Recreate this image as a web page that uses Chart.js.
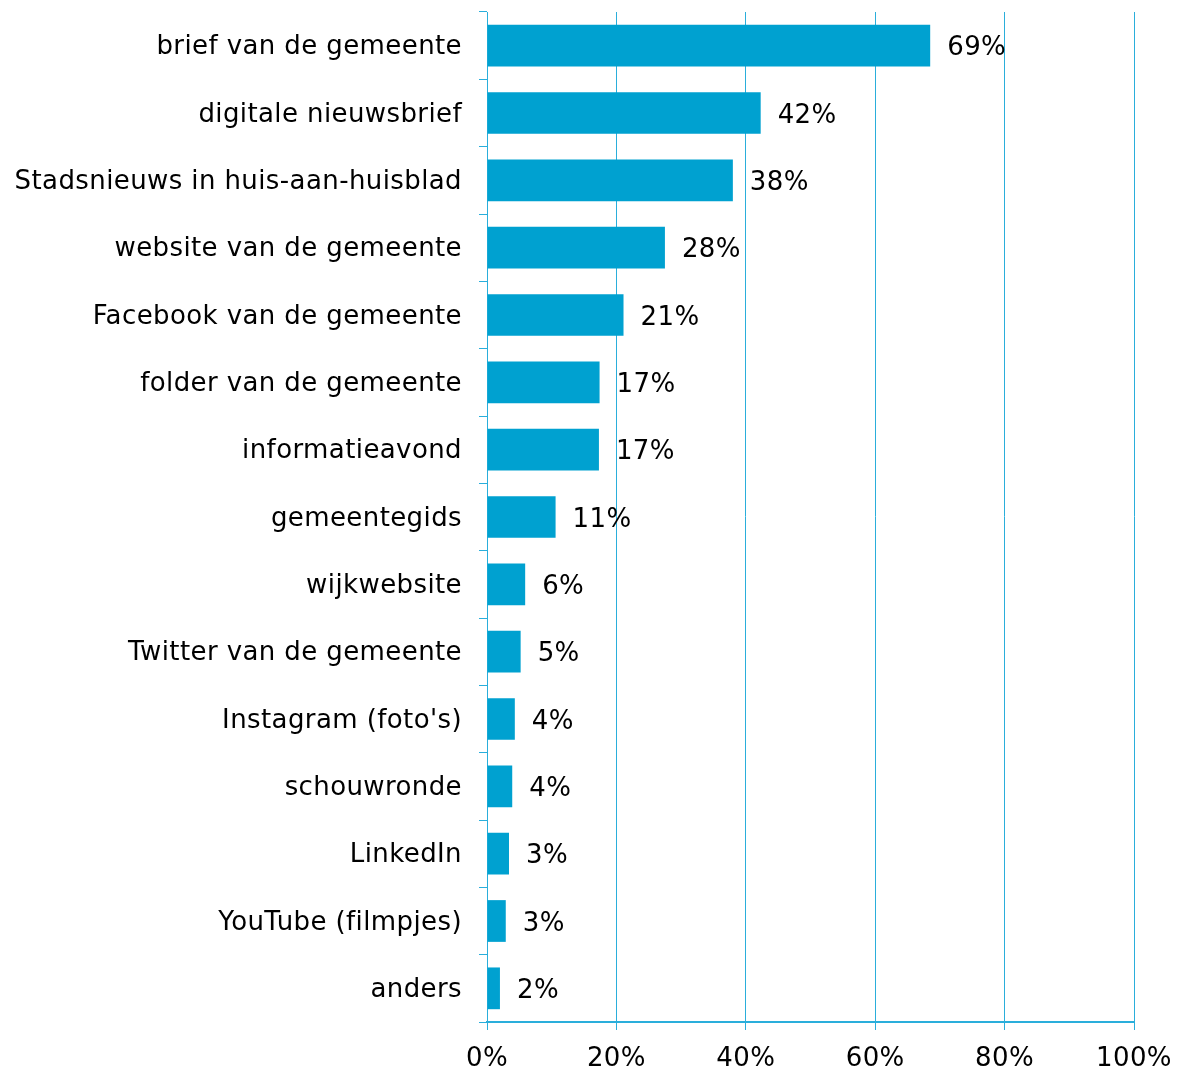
<!DOCTYPE html>
<html>
<head>
<meta charset="utf-8">
<script src="https://cdn.jsdelivr.net/npm/chart.js@4/dist/chart.umd.min.js"></script>
<style>
html, body { margin: 0; padding: 0; background: #fff; }
#wrap { width: 1177px; height: 1071px; }
</style>
</head>
<body>
<div id="wrap"><canvas id="myChart" width="1177" height="1071"></canvas></div>
<script>
// categories and values (percent)
var categories = ['brief van de gemeente', 'digitale nieuwsbrief', 'Stadsnieuws in huis-aan-huisblad',
  'website van de gemeente', 'Facebook van de gemeente', 'folder van de gemeente', 'informatieavond',
  'gemeentegids', 'wijkwebsite', 'Twitter van de gemeente', 'Instagram (foto\'s)', 'schouwronde',
  'LinkedIn', 'YouTube (filmpjes)', 'anders'];
var values = [68.5, 42.3, 38.0, 27.5, 21.1, 17.4, 17.3, 10.6, 5.9, 5.2, 4.3, 3.9, 3.4, 2.9, 2.0];
var valueLabels = ['69%', '42%', '38%', '28%', '21%', '17%', '17%', '11%', '6%', '5%', '4%', '4%', '3%', '3%', '2%'];
var xTicks = [0, 20, 40, 60, 80, 100];

var fontFam = '"DejaVu Sans", Verdana, sans-serif';
var blue = '#00a1d0';
var lineBlue = '#2aaedb';

// wider spacing, closer to the Verdana look of the original; nudge category labels down a bit
var spacing = {
  id: 'spacing',
  beforeDraw: function(chart) {
    chart.ctx.letterSpacing = '0.4px';
    var items = chart.scales.y.getLabelItems();
    items.forEach(function(it) {
      if (!it._moved) { it.options.translation[1] += 2; it._moved = true; }
    });
  }
};

var barLabels = {
  id: 'barLabels',
  afterDatasetsDraw: function(chart) {
    var ctx = chart.ctx;
    var meta = chart.getDatasetMeta(0);
    ctx.save();
    ctx.font = '26px ' + fontFam;
    ctx.fillStyle = '#000';
    ctx.textAlign = 'left';
    ctx.textBaseline = 'middle';
    meta.data.forEach(function(bar, i) {
      ctx.fillText(valueLabels[i], bar.x + 17, bar.y + 3);
    });
    ctx.restore();
  }
};

var ctx = document.getElementById('myChart').getContext('2d');
var chart = new Chart(ctx, {
  type: 'bar',
  data: {
    labels: categories,
    datasets: [{
      data: values,
      backgroundColor: blue,
      borderWidth: 0,
      categoryPercentage: 1,
      barPercentage: 0.62
    }]
  },
  plugins: [spacing, barLabels],
  options: {
    indexAxis: 'y',
    responsive: false,
    animation: false,
    layout: { padding: { top: 12, right: 43, bottom: 0, left: 0 } },
    plugins: { legend: { display: false }, tooltip: { enabled: false } },
    scales: {
      x: {
        min: 0, max: 100,
        afterBuildTicks: function(scale) { scale.ticks = xTicks.map(function(v) { return { value: v }; }); },
        afterFit: function(scale) { scale.height = 49; scale.paddingLeft = 0; scale.paddingRight = 0; },
        ticks: {
          color: '#000',
          font: { family: fontFam, size: 26 },
          padding: 14,
          maxRotation: 0,
          callback: function(v) { return v + '%'; }
        },
        grid: { color: lineBlue, lineWidth: 1, drawTicks: true, tickLength: 8 },
        border: { color: lineBlue, width: 2 }
      },
      y: {
        afterFit: function(scale) { scale.width = 487; scale.paddingTop = 0; scale.paddingBottom = 0; },
        ticks: {
          color: '#000',
          font: { family: fontFam, size: 26 },
          padding: 17,
          autoSkip: false
        },
        grid: { drawOnChartArea: false, drawTicks: true, tickLength: 8, color: lineBlue, offset: true },
        border: { color: lineBlue, width: 1 }
      }
    }
  }
});
</script>
</body>
</html>
